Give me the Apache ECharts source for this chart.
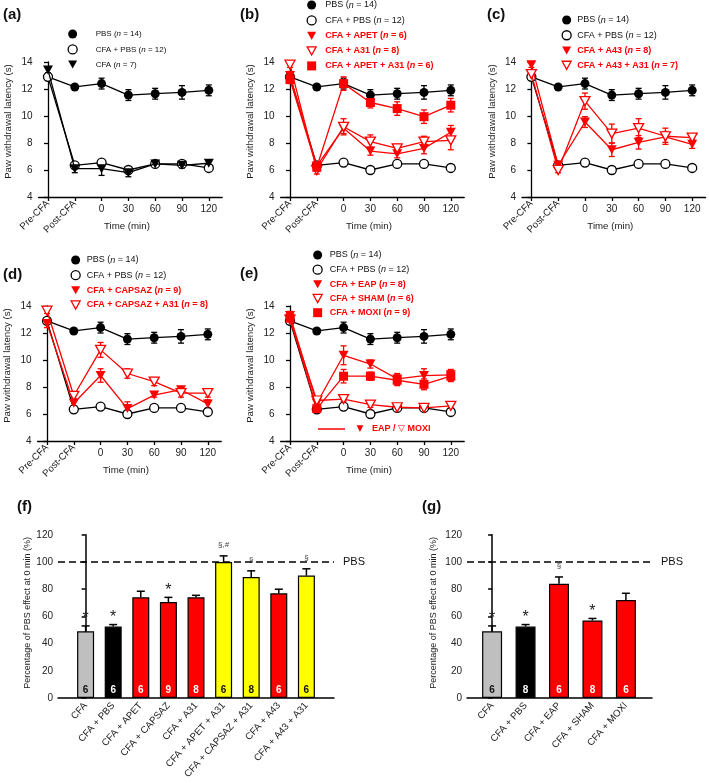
<!DOCTYPE html>
<html><head><meta charset="utf-8">
<script src="https://cdn.jsdelivr.net/npm/echarts@6/dist/echarts.min.js"></script>
<style>html,body{margin:0;padding:0;background:#fff}#c{width:709px;height:783px}</style>
</head><body><div id="c"></div>
<script>
// ---------- data ----------
const TIME_LABELS = ['Pre-CFA', 'Post-CFA', '0', '30', '60', '90', '120'];

const PBS = [12.9, 12.15, 12.4, 11.55, 11.65, 11.75, 11.9];
const PBS_ERR = [0.2, 0.15, 0.4, 0.4, 0.4, 0.5, 0.4];
const CFA_PBS = [12.9, 6.35, 6.55, 6.0, 6.45, 6.45, 6.15];
const CFA_PBS_ERR = [0.1, 0.1, 0.1, 0.1, 0.1, 0.1, 0.1];
const CFA = [13.4, 6.1, 6.1, 5.8, 6.45, 6.35, 6.5];
const CFA_ERR = [0.2, 0.3, 0.5, 0.3, 0.15, 0.2, 0.15];

const APET = [13.0, 6.3, 9.1, 7.4, 7.2, 7.6, 8.8];
const APET_ERR = [0.3, 0.3, 0.4, 0.3, 0.3, 0.4, 0.5];
const A31 = [13.8, 6.0, 9.2, 8.1, 7.6, 8.1, 8.2];
const A31_ERR = [0.2, 0.3, 0.6, 0.5, 0.3, 0.4, 0.7];
const APET_A31 = [12.7, 6.2, 12.4, 11.0, 10.55, 9.95, 10.8];
const APET_A31_ERR = [0.3, 0.2, 0.5, 0.4, 0.5, 0.5, 0.5];

const A43 = [13.8, 6.35, 9.55, 7.5, 8.05, 8.45, 7.9];
const A43_ERR = [0.2, 0.2, 0.4, 0.5, 0.5, 0.4, 0.3];
const A43_A31 = [13.1, 6.0, 11.1, 8.7, 9.1, 8.5, 8.4];
const A43_A31_ERR = [0.2, 0.2, 0.6, 0.7, 0.7, 0.6, 0.2];

const CAPSAZ = [12.7, 6.8, 8.85, 6.4, 7.4, 7.8, 6.75];
const CAPSAZ_ERR = [0.3, 0.3, 0.5, 0.5, 0.15, 0.2, 0.3];
const CAPSAZ_A31 = [13.65, 7.35, 10.75, 9.0, 8.4, 7.55, 7.55];
const CAPSAZ_A31_ERR = [0.2, 0.2, 0.55, 0.35, 0.3, 0.3, 0.3];

const EAP = [13.3, 6.8, 10.35, 9.7, 8.6, 8.85, 8.9];
const EAP_ERR = [0.3, 0.2, 0.7, 0.3, 0.4, 0.5, 0.4];
const SHAM = [13.0, 7.0, 7.1, 6.7, 6.5, 6.45, 6.6];
const SHAM_ERR = [0.2, 0.2, 0.15, 0.2, 0.15, 0.1, 0.15];
const MOXI = [13.1, 6.4, 8.8, 8.8, 8.5, 8.2, 8.8];
const MOXI_ERR = [0.2, 0.2, 0.5, 0.3, 0.4, 0.4, 0.4];

const F_CATS = ['CFA', 'CFA + PBS', 'CFA + APET', 'CFA + CAPSAZ', 'CFA + A31', 'CFA + APET + A31', 'CFA + CAPSAZ + A31', 'CFA + A43', 'CFA + A43 + A31'];
const F_VALUES = [49, 52.5, 74, 70.5, 74, 100, 89, 77, 90];
const F_ERR = [4, 1.5, 4.5, 3.5, 1.5, 4.5, 4.5, 3, 5];
const F_N = [6, 6, 6, 9, 8, 6, 8, 6, 6];
const F_MARKS = ['*', '*', '', '*', '', '§,#', '§', '', '§'];

const G_CATS = ['CFA', 'CFA + PBS', 'CFA + EAP', 'CFA + SHAM', 'CFA + MOXI'];
const G_VALUES = [49, 52.5, 84, 57, 72];
const G_ERR = [4, 1.5, 5, 1.5, 5];
const G_N = [6, 8, 6, 8, 6];
const G_MARKS = ['*', '*', '§', '*', ''];

// ---------- styles ----------
const FONT = '"Liberation Sans", Arial, Helvetica, sans-serif';
const RED = '#ff0000', BLACK = '#000000', GREY = '#bfbfbf', YELLOW = '#ffff00';
const TRI = 'path://M0,0L10,0L5,9Z';
const F_COLORS = [GREY, BLACK, RED, RED, RED, YELLOW, YELLOW, RED, YELLOW];
const F_NCOLORS = ['#111', '#fff', '#fff', '#fff', '#fff', '#111', '#111', '#fff', '#111'];
const G_COLORS = [GREY, BLACK, RED, RED, RED];
const G_NCOLORS = ['#111', '#fff', '#fff', '#fff', '#fff'];

const DEFS = {
  pbs: {name: 'PBS (n = 14)', data: PBS, err: PBS_ERR, symbol: 'circle', color: BLACK, open: false},
  cfaPbs: {name: 'CFA + PBS (n = 12)', data: CFA_PBS, err: CFA_PBS_ERR, symbol: 'circle', color: BLACK, open: true},
  cfa: {name: 'CFA (n = 7)', data: CFA, err: CFA_ERR, symbol: TRI, color: BLACK, open: false},
  apet: {name: 'CFA + APET (n = 6)', data: APET, err: APET_ERR, symbol: TRI, color: RED, open: false},
  a31: {name: 'CFA + A31 (n = 8)', data: A31, err: A31_ERR, symbol: TRI, color: RED, open: true},
  apetA31: {name: 'CFA + APET + A31 (n = 6)', data: APET_A31, err: APET_A31_ERR, symbol: 'rect', color: RED, open: false},
  a43: {name: 'CFA + A43 (n = 8)', data: A43, err: A43_ERR, symbol: TRI, color: RED, open: false},
  a43A31: {name: 'CFA + A43 + A31 (n = 7)', data: A43_A31, err: A43_A31_ERR, symbol: TRI, color: RED, open: true},
  capsaz: {name: 'CFA + CAPSAZ (n = 9)', data: CAPSAZ, err: CAPSAZ_ERR, symbol: TRI, color: RED, open: false},
  capsazA31: {name: 'CFA + CAPSAZ + A31 (n = 8)', data: CAPSAZ_A31, err: CAPSAZ_A31_ERR, symbol: TRI, color: RED, open: true},
  eap: {name: 'CFA + EAP (n = 8)', data: EAP, err: EAP_ERR, symbol: TRI, color: RED, open: false},
  sham: {name: 'CFA + SHAM (n = 6)', data: SHAM, err: SHAM_ERR, symbol: TRI, color: RED, open: true},
  moxi: {name: 'CFA + MOXI (n = 9)', data: MOXI, err: MOXI_ERR, symbol: 'rect', color: RED, open: false}
};

const PANELS = [
  {title: '(a)', tl: [3, 7], keys: ['pbs', 'cfaPbs', 'cfa'], left: 38.6, top: 62, lg: {left: 67.5, top: 29.5, gap: 5.8, sp: 13.5, fs: 8}},
  {title: '(b)', tl: [240, 7], keys: ['pbs', 'cfaPbs', 'apet', 'a31', 'apetA31'], left: 280.6, top: 62, lg: {left: 306.5, top: 0.5, gap: 5.8, sp: 4, fs: 9}},
  {title: '(c)', tl: [487, 7], keys: ['pbs', 'cfaPbs', 'a43', 'a43A31'], left: 522, top: 62, lg: {left: 561.5, top: 15.5, gap: 5.6, sp: 1, fs: 9}},
  {title: '(d)', tl: [3, 267], keys: ['pbs', 'cfaPbs', 'capsaz', 'capsazA31'], left: 37.6, top: 306, lg: {left: 70.5, top: 255.5, gap: 5.5, sp: 1.5, fs: 9}},
  {title: '(e)', tl: [240, 266], keys: ['pbs', 'cfaPbs', 'eap', 'sham', 'moxi'], left: 280.6, top: 306, lg: {left: 312.5, top: 250.5, gap: 5.0, sp: 2.5, fs: 9}}
];

const grid = [], xAxis = [], yAxis = [], series = [], legend = [], title = [];

function errRenderer(color) {
  return function (params, api) {
    const x = api.value(0), y = api.value(1), e = api.value(2);
    const t = api.coord([x, y + e]), b = api.coord([x, y - e]);
    const st = {stroke: color, lineWidth: 1.3};
    return {type: 'group', children: [
      {type: 'line', shape: {x1: t[0], y1: t[1], x2: b[0], y2: b[1]}, style: st},
      {type: 'line', shape: {x1: t[0] - 3, y1: t[1], x2: t[0] + 3, y2: t[1]}, style: st},
      {type: 'line', shape: {x1: b[0] - 3, y1: b[1], x2: b[0] + 3, y2: b[1]}, style: st}
    ]};
  };
}

function symSize(sym) { return sym === TRI ? [10, 9] : 9; }

PANELS.forEach(p => {
  const gi = grid.length;
  grid.push({left: p.left, top: p.top, width: 183.6, height: 135});
  const xi = xAxis.length;
  xAxis.push({
    type: 'value', gridIndex: gi, position: 'bottom', min: -0.35, max: 6.5,
    splitLine: {show: false},
    axisLine: {show: true, lineStyle: {color: BLACK, width: 1.3}},
    axisTick: {show: true, customValues: [0, 1, 2, 3, 4, 5, 6], length: 4, lineStyle: {color: BLACK, width: 1.3}},
    axisLabel: {customValues: [2, 3, 4, 5, 6], formatter: v => TIME_LABELS[Math.round(v)], fontSize: 10, color: '#222', margin: 7, fontFamily: FONT},
    name: 'Time (min)', nameLocation: 'middle', nameGap: 24,
    nameTextStyle: {fontSize: 9.7, color: '#222', padding: [0, 7, 0, 0], fontFamily: FONT}
  });
  xAxis.push({
    type: 'value', gridIndex: gi, position: 'bottom', min: -0.35, max: 6.5,
    splitLine: {show: false}, axisLine: {show: false}, axisTick: {show: false},
    axisLabel: {customValues: [0, 1], formatter: v => TIME_LABELS[Math.round(v)], rotate: 45, fontSize: 9.7, color: '#222', margin: 5, fontFamily: FONT}
  });
  const yi = yAxis.length;
  yAxis.push({
    type: 'value', gridIndex: gi, min: 4, max: 14, interval: 2,
    splitLine: {show: false},
    axisLine: {show: true, lineStyle: {color: BLACK, width: 1.3}},
    axisTick: {show: true, length: 4, lineStyle: {color: BLACK, width: 1.3}},
    axisLabel: {fontSize: 10, color: '#222', margin: 6, fontFamily: FONT},
    name: 'Paw withdrawal latency (s)', nameLocation: 'middle', nameGap: 25,
    nameTextStyle: {fontSize: 9.7, color: '#222', padding: [0, 0, 0, 16], fontFamily: FONT}
  });
  p.keys.forEach((k, ki) => {
    const d = DEFS[k];
    series.push({
      type: 'custom', xAxisIndex: xi, yAxisIndex: yi, silent: true, z: 2,
      data: d.data.map((v, i) => [i, v, d.err[i]]),
      renderItem: errRenderer(d.color)
    });
    series.push({
      type: 'line', name: d.name, xAxisIndex: xi, yAxisIndex: yi, z: 3 + ki,
      data: d.data.map((v, i) => [i, v]),
      symbol: d.symbol, symbolSize: symSize(d.symbol),
      lineStyle: {color: d.color, width: 1.3},
      itemStyle: d.open ? {color: '#fff', borderColor: d.color, borderWidth: 1.3} : {color: d.color, borderWidth: 0},
      emphasis: {disabled: true}
    });
  });
  const fs = p.lg.fs;
  legend.push({
    orient: 'vertical', left: p.lg.left, top: p.lg.top, itemWidth: 9, itemHeight: 9,
    itemGap: p.lg.gap, padding: 0, selectedMode: false,
    data: p.keys.map(k => {
      const d = DEFS[k];
      return {
        name: d.name, icon: d.symbol,
        itemStyle: d.open ? {color: '#fff', borderColor: d.color, borderWidth: 1.3} : {color: d.color, borderWidth: 0}
      };
    }),
    formatter: name => {
      const d = Object.values(DEFS).find(x => x.name === name);
      const s = d.color === RED ? 'r' : 'k';
      const parts = name.split('(n');
      return '{sp| }{' + s + '|' + parts[0] + '(}{' + s + 'i|n}{' + s + '|' + parts[1] + '}';
    },
    textStyle: {
      rich: {
        sp: {width: p.lg.sp, fontSize: fs},
        k: {fontSize: fs, color: '#111', fontFamily: FONT},
        ki: {fontSize: fs, color: '#111', fontStyle: 'italic', fontFamily: FONT},
        r: {fontSize: fs, color: RED, fontWeight: 'bold', fontFamily: FONT},
        ri: {fontSize: fs, color: RED, fontWeight: 'bold', fontStyle: 'italic', fontFamily: FONT}
      }
    }
  });
  title.push({text: p.title, left: p.tl[0], top: p.tl[1], padding: 0,
    textStyle: {fontSize: 15, fontWeight: 'bold', color: '#111', fontFamily: FONT}});
});

function barPanel(cfg) {
  const gi = grid.length;
  grid.push({left: cfg.left, top: 534.8, width: cfg.width, height: 163.2});
  const xi = xAxis.length;
  xAxis.push({
    type: 'value', gridIndex: gi, min: cfg.min, max: cfg.max,
    splitLine: {show: false},
    axisLine: {show: true, lineStyle: {color: BLACK, width: 1.5}},
    axisTick: {show: false},
    axisLabel: {customValues: cfg.cats.map((c, i) => i), formatter: v => cfg.cats[Math.round(v)], rotate: 48, fontSize: 9.7, color: '#222', margin: 6, fontFamily: FONT}
  });
  const yi = yAxis.length;
  yAxis.push({
    type: 'value', gridIndex: gi, min: 0, max: 120, interval: 20,
    splitLine: {show: false},
    axisLine: {show: true, lineStyle: {color: BLACK, width: 1.5}},
    axisTick: {show: true, length: 4, lineStyle: {color: BLACK, width: 1.5}},
    axisLabel: {fontSize: 10, color: '#222', margin: 5, fontFamily: FONT},
    name: 'Percentage of PBS effect at 0 min (%)', nameLocation: 'middle', nameGap: cfg.nameGap,
    nameTextStyle: {fontSize: 9, color: '#222', padding: [0, 0, 0, 7], fontFamily: FONT}
  });
  series.push({
    type: 'bar', xAxisIndex: xi, yAxisIndex: yi, barWidth: cfg.barWidth, z: 2,
    data: cfg.values.map((v, i) => ({value: [i, v], itemStyle: {color: cfg.colors[i]}, label: {color: cfg.ncolors[i]}})),
    itemStyle: {borderColor: BLACK, borderWidth: 1.2},
    label: {show: true, position: 'insideBottom', distance: 3, formatter: q => String(cfg.n[q.dataIndex]), fontSize: 10, fontWeight: 'bold', fontFamily: FONT},
    emphasis: {disabled: true},
    markLine: {
      silent: true, symbol: ['none', 'none'], animation: false,
      data: [{yAxis: 100}],
      lineStyle: {color: BLACK, width: 1.6, type: [7, 4]},
      label: {show: true, position: 'end', formatter: 'PBS', fontSize: 11, color: '#111', distance: 9, fontFamily: FONT}
    }
  });
  series.push({
    type: 'custom', xAxisIndex: xi, yAxisIndex: yi, silent: true, z: 3,
    data: cfg.values.map((v, i) => [i, v, cfg.err[i]]),
    renderItem: function (params, api) {
      const x = api.value(0), v = api.value(1), e = api.value(2);
      const p0 = api.coord([x, v]), p1 = api.coord([x, v + e]);
      const st = {stroke: BLACK, lineWidth: 1.5};
      const ch = [
        {type: 'line', shape: {x1: p0[0], y1: p0[1], x2: p1[0], y2: p1[1]}, style: st},
        {type: 'line', shape: {x1: p1[0] - 4, y1: p1[1], x2: p1[0] + 4, y2: p1[1]}, style: st}
      ];
      const m = cfg.marks[params.dataIndex];
      if (m) {
        const star = m === '*';
        ch.push({type: 'text', x: p1[0], y: p1[1] - (star ? -1 : 7),
          style: {text: m, align: 'center', verticalAlign: 'bottom', fontSize: star ? 16 : 8, fill: star ? '#222' : '#444', fontFamily: FONT}});
      }
      return {type: 'group', children: ch};
    }
  });
}

barPanel({left: 58, width: 276, min: -1, max: 9, cats: F_CATS, values: F_VALUES, err: F_ERR, n: F_N, marks: F_MARKS, colors: F_COLORS, ncolors: F_NCOLORS, barWidth: 17, nameGap: 25});
barPanel({left: 467, width: 185, min: -0.75, max: 4.78, cats: G_CATS, values: G_VALUES, err: G_ERR, n: G_N, marks: G_MARKS, colors: G_COLORS, ncolors: G_NCOLORS, barWidth: 20, nameGap: 28.5});

title.push({text: '(f)', left: 17, top: 499, padding: 0, textStyle: {fontSize: 15, fontWeight: 'bold', color: '#111', fontFamily: FONT}});
title.push({text: '(g)', left: 422, top: 499, padding: 0, textStyle: {fontSize: 15, fontWeight: 'bold', color: '#111', fontFamily: FONT}});

const graphic = [
  {type: 'line', shape: {x1: 318, y1: 429, x2: 345, y2: 429}, style: {stroke: RED, lineWidth: 1.5}},
  {type: 'text', x: 360, y: 429, style: {text: '▼', fill: RED, fontSize: 9, fontFamily: 'DejaVu Sans', align: 'center', verticalAlign: 'middle'}},
  {type: 'text', x: 372, y: 429, style: {text: 'EAP / ▽ MOXI', fill: RED, fontSize: 9, fontWeight: 'bold', fontFamily: FONT + ', "DejaVu Sans"', verticalAlign: 'middle'}}
];

const chart = echarts.init(document.getElementById('c'), null, {width: 709, height: 783});
chart.setOption({
  animation: false,
  backgroundColor: '#fff',
  textStyle: {fontFamily: FONT},
  title, grid, xAxis, yAxis, series, legend, graphic
});
</script>
</body></html>
